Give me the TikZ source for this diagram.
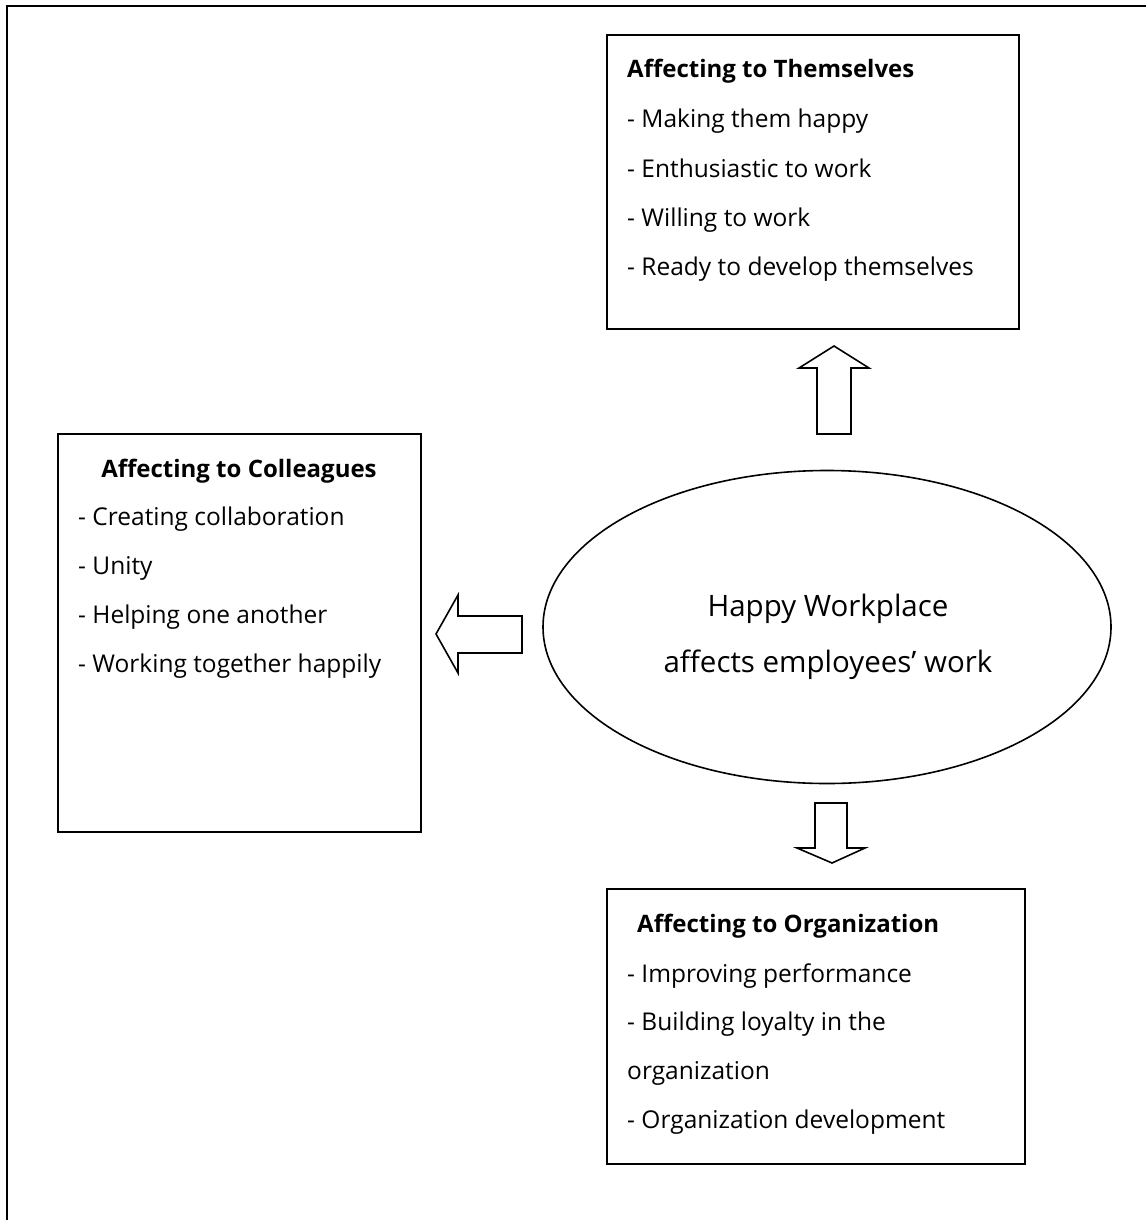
\documentclass[tikz,border=0pt]{standalone}
\usepackage{fontspec}
\setmainfont{Open Sans}
\usetikzlibrary{shapes.geometric}
\begin{document}
\begin{tikzpicture}[x=1pt,y=-1pt,
  box/.style={draw,line width=2pt,rectangle,inner sep=0pt},
  txt/.style={anchor=base west,inner sep=0pt,font=\fontsize{24.5}{24.5}\selectfont},
  ttl/.style={anchor=base west,inner sep=0pt,font=\fontsize{24}{24}\selectfont\bfseries},
  big/.style={anchor=base,inner sep=0pt,font=\fontsize{29.5}{29.5}\selectfont},
  blockarrow/.style={draw,line width=1.6pt,line join=miter,fill=white}]
\useasboundingbox (0,0) rectangle (1146,1220);
% outer frame (top and left visible)
\draw[line width=2.2pt] (7,1220) -- (7,6) -- (1146,6);
% boxes
\node[box,minimum width=412pt,minimum height=294pt] (them) at (813,182) {};
\node[box,minimum width=363pt,minimum height=398pt] (coll) at (239.5,633) {};
\node[box,minimum width=418pt,minimum height=275pt] (org) at (816,1026.5) {};
\node[draw,ellipse,line width=1.6pt,minimum width=568pt,minimum height=313pt,inner sep=0pt] (happy) at (827,627) {};
% themselves
\node[ttl] (t0) at (627,78) {Affecting to Themselves};
\node[txt] (t1) at (627,128) {- Making them happy};
\node[txt] (t2) at (627,177) {- Enthusiastic to work};
\node[txt] (t3) at (627,226) {- Willing to work};
\node[txt] (t4) at (627,275) {- Ready to develop themselves};
% colleagues
\node[ttl,anchor=base] (c0) at (239,477) {Affecting to Colleagues};
\node[txt] (c1) at (78,525) {- Creating collaboration};
\node[txt] (c2) at (78,574) {- Unity};
\node[txt] (c3) at (78,623) {- Helping one another};
\node[txt] (c4) at (78,672) {- Working together happily};
% organization
\node[ttl] (o0) at (637,932) {Affecting to Organization};
\node[txt] (o1) at (627,982) {- Improving performance};
\node[txt] (o2) at (627,1030) {- Building loyalty in the};
\node[txt] (o3) at (627,1079) {organization};
\node[txt] (o4) at (627,1128) {- Organization development};
% ellipse text
\node[big] (h1) at (828,616) {Happy Workplace};
\node[big] (h2) at (828,672) {affects employees’ work};
% block arrows
\draw[blockarrow] (817,434) -- (817,368) -- (799,368) -- (834,346) -- (869,368) -- (851,368) -- (851,434) -- cycle;
\draw[blockarrow] (522,616) -- (458,616) -- (458,595) -- (436,634) -- (458,673) -- (458,653) -- (522,653) -- cycle;
\draw[blockarrow] (815,803) -- (847,803) -- (847,848) -- (865,848) -- (832,863) -- (797,848) -- (815,848) -- cycle;
\end{tikzpicture}
\end{document}
